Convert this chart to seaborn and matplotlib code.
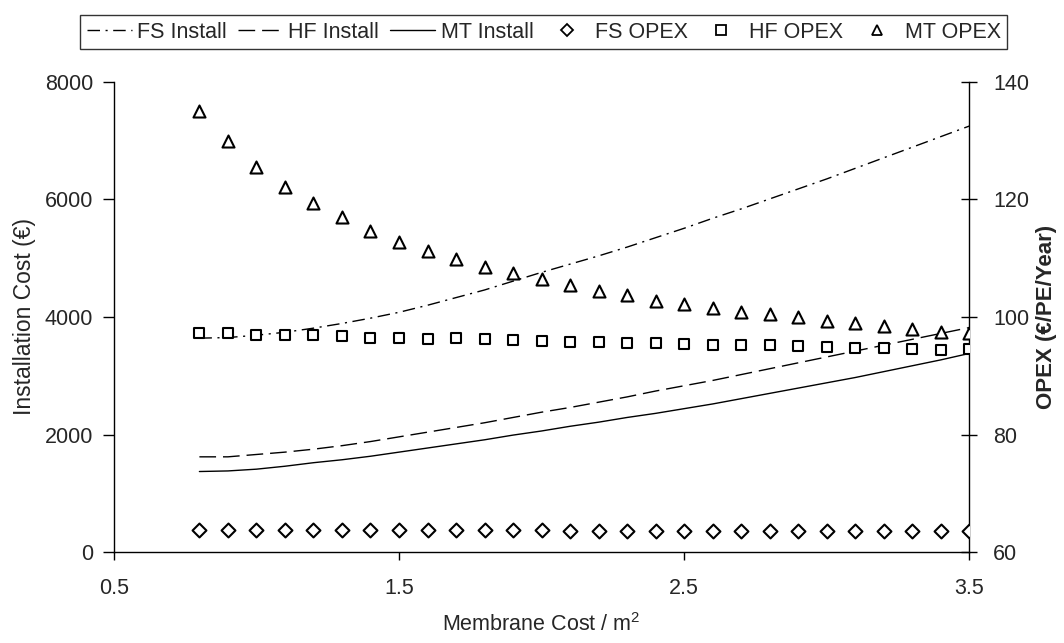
import numpy as np
import pandas as pd
import matplotlib
matplotlib.use("Agg")
import matplotlib.pyplot as plt
import seaborn as sns
from matplotlib.lines import Line2D

membrane_cost = [0.8, 0.9, 1.0, 1.1, 1.2, 1.3, 1.4, 1.5, 1.6, 1.7, 1.8, 1.9, 2.0, 2.1,
                 2.2, 2.3, 2.4, 2.5, 2.6, 2.7, 2.8, 2.9, 3.0, 3.1, 3.2, 3.3, 3.4, 3.5]

fs_install = [3640, 3650, 3690, 3740, 3810, 3890, 3980, 4080, 4200, 4330, 4460, 4610, 4760, 4900,
              5040, 5190, 5350, 5510, 5680, 5840, 6010, 6180, 6350, 6530, 6710, 6890, 7070, 7250]
hf_install = [1620, 1620, 1660, 1700, 1750, 1810, 1880, 1960, 2040, 2120, 2200, 2290, 2380, 2460,
              2550, 2640, 2740, 2830, 2920, 3020, 3120, 3220, 3320, 3420, 3520, 3620, 3720, 3820]
mt_install = [1370, 1380, 1410, 1460, 1520, 1570, 1630, 1700, 1770, 1840, 1910, 1990, 2060, 2140,
              2210, 2290, 2360, 2440, 2520, 2610, 2700, 2790, 2880, 2970, 3070, 3170, 3270, 3380]

fs_opex = [63.8, 63.8, 63.8, 63.8, 63.8, 63.8, 63.7, 63.7, 63.7, 63.7, 63.7, 63.7, 63.7, 63.6,
           63.6, 63.6, 63.6, 63.6, 63.6, 63.6, 63.6, 63.6, 63.6, 63.6, 63.6, 63.6, 63.5, 63.5]
hf_opex = [97.2, 97.2, 97.0, 96.9, 96.9, 96.7, 96.5, 96.4, 96.3, 96.4, 96.2, 96.1, 96.0, 95.8,
           95.8, 95.5, 95.6, 95.4, 95.3, 95.3, 95.2, 95.1, 94.9, 94.8, 94.7, 94.6, 94.4, 94.5]
mt_opex = [135.1, 130.0, 125.5, 122.1, 119.4, 117.0, 114.6, 112.8, 111.2, 109.8, 108.5, 107.5, 106.4, 105.4,
           104.4, 103.7, 102.7, 102.2, 101.6, 100.9, 100.5, 100.0, 99.3, 99.0, 98.5, 98.0, 97.4, 97.3]

x_ticks = [0.5, 1.5, 2.5, 3.5]
left_ticks = [0, 2000, 4000, 6000, 8000]
right_ticks = [60, 80, 100, 120, 140]

sns.set_style("white")
plt.rcParams['font.family'] = ['Liberation Sans', 'DejaVu Sans']
plt.rcParams['mathtext.fontset'] = 'custom'
plt.rcParams['mathtext.rm'] = 'Liberation Sans'

fig = plt.figure(figsize=(10.64, 6.43), dpi=100)
ax = fig.add_axes([0.107, 0.1415, 0.804, 0.731])
ax2 = ax.twinx()

df = pd.DataFrame({"x": membrane_cost, "fs": fs_install, "hf": hf_install, "mt": mt_install,
                   "fso": fs_opex, "hfo": hf_opex, "mto": mt_opex})

lw = 1.0
sns.lineplot(data=df, x="x", y="fs", ax=ax, color="black", lw=lw)
ax.lines[-1].set_dashes([9, 4, 1.5, 4])
sns.lineplot(data=df, x="x", y="hf", ax=ax, color="black", lw=lw)
ax.lines[-1].set_dashes([12, 5])
sns.lineplot(data=df, x="x", y="mt", ax=ax, color="black", lw=lw)

sns.scatterplot(data=df, x="x", y="fso", ax=ax2, marker="D", s=50, facecolor="white",
                edgecolor="black", linewidth=1.5, zorder=5)
sns.scatterplot(data=df, x="x", y="hfo", ax=ax2, marker="s", s=60, facecolor="white",
                edgecolor="black", linewidth=1.5, zorder=5)
sns.scatterplot(data=df, x="x", y="mto", ax=ax2, marker="^", s=75, facecolor="white",
                edgecolor="black", linewidth=1.5, zorder=5)

ax.set_xlim(0.5, 3.5)
ax.set_ylim(0, 8000)
ax2.set_ylim(60, 140)
ax.set_xticks(x_ticks)
ax.set_xticklabels([str(t) for t in x_ticks])
ax.set_yticks(left_ticks)
ax2.set_yticks(right_ticks)

for a in (ax, ax2):
    a.spines["top"].set_visible(False)
    for s in a.spines.values():
        s.set_color("black")
        s.set_linewidth(1.0)
ax.spines["right"].set_visible(False)
ax2.spines["left"].set_visible(False)
ax2.spines["bottom"].set_visible(False)

ax.tick_params(axis="x", direction="out", length=6, width=1, color="black",
               labelsize=15.5, pad=13, bottom=True)
ax.tick_params(axis="y", direction="out", length=8, width=1, color="black",
               labelsize=15.5, pad=7, left=True)
ax2.tick_params(axis="y", direction="inout", length=12, width=1, color="black",
                labelsize=15.5, pad=11, right=True)

ax.set_xlabel("Membrane Cost / m$^2$", fontsize=15.5, labelpad=10)
ax.set_ylabel("Installation Cost (€)", fontsize=16.5, labelpad=6)
ax2.set_ylabel("OPEX (€/PE/Year)", fontsize=16, fontweight="bold", labelpad=5)
ax.grid(False)
ax2.grid(False)

handles = [
    Line2D([], [], color="black", lw=lw, dashes=[9, 4, 1.5, 4]),
    Line2D([], [], color="black", lw=lw, dashes=[12, 5]),
    Line2D([], [], color="black", lw=lw),
    Line2D([], [], ls="none", marker="D", ms=6, mfc="white", mec="black", mew=1.3),
    Line2D([], [], ls="none", marker="s", ms=6.5, mfc="white", mec="black", mew=1.3),
    Line2D([], [], ls="none", marker="^", ms=7.5, mfc="white", mec="black", mew=1.3),
]
labels = ["FS Install", "HF Install", "MT Install", "FS OPEX", "HF OPEX", "MT OPEX"]
leg = fig.legend(handles, labels, loc="center", bbox_to_anchor=(0.511, 0.950), ncol=6,
                 frameon=True, fancybox=False, edgecolor="black", fontsize=15.5,
                 handlelength=2.1, handletextpad=0.25, columnspacing=0.5,
                 borderpad=0.3, borderaxespad=0)
leg.get_frame().set_linewidth(1.0)

fig.savefig("out.png", dpi=100)
